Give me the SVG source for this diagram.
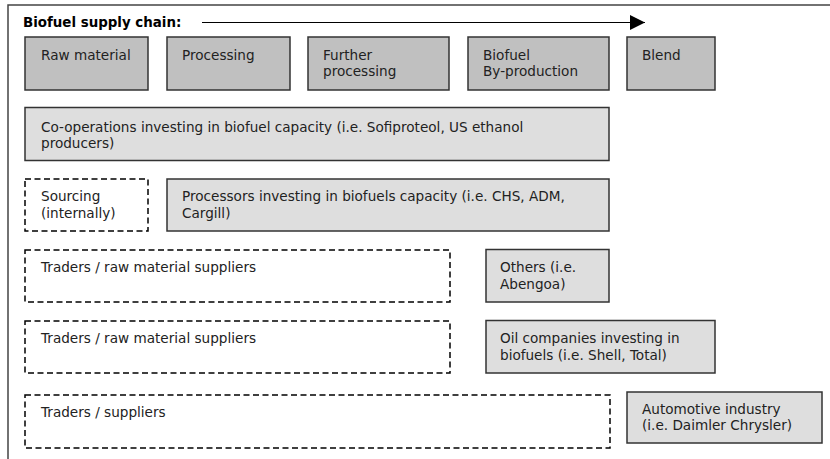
<svg xmlns="http://www.w3.org/2000/svg" width="830" height="459" viewBox="0 0 830 459">
<style>
  text { font-family: "DejaVu Sans", Verdana, sans-serif; font-size: 13.6px; fill: #222; }
  .title { font-weight: bold; fill: #000; font-size: 13.4px; }
  .dark { fill: #c0c0c0; stroke: #333; stroke-width: 1.5; }
  .light { fill: #dedede; stroke: #333; stroke-width: 1.5; }
  .dash { fill: #fff; stroke: #000; stroke-width: 1.5; stroke-dasharray: 6 3.5; }
  .frame { fill: none; stroke: #444; stroke-width: 1.5; }
</style>
<defs>
  <marker id="arrow" markerUnits="userSpaceOnUse" markerWidth="16" markerHeight="16" refX="15" refY="7.5" orient="auto">
    <path d="M0,0 L15,7.5 L0,15 Z" fill="#000"/>
  </marker>
</defs>
<rect width="830" height="459" fill="#fff"/>
<path class="frame" d="M8,470 L8,5 L840,5"/>
<g id="header">
  <text class="title" x="23" y="27">Biofuel supply chain:</text>
</g>
<g id="connectors">
  <line x1="202" y1="22.5" x2="645" y2="22.5" stroke="#000" stroke-width="1.2" marker-end="url(#arrow)"/>
</g>
<g id="raw-material">
  <rect class="dark" x="25" y="37" width="123" height="53"/>
  <text x="41" y="59.5">Raw material</text>
</g>
<g id="processing">
  <rect class="dark" x="167" y="37" width="123" height="53"/>
  <text x="182" y="59.5">Processing</text>
</g>
<g id="further-processing">
  <rect class="dark" x="308" y="37" width="141" height="53"/>
  <text x="323" y="59.5">Further</text>
  <text x="323" y="76">processing</text>
</g>
<g id="biofuel-byproduction">
  <rect class="dark" x="468" y="37" width="141" height="53"/>
  <text x="483" y="59.5">Biofuel</text>
  <text x="483" y="76">By-production</text>
</g>
<g id="blend">
  <rect class="dark" x="627" y="37" width="88" height="53"/>
  <text x="642" y="59.5">Blend</text>
</g>
<g id="co-operations">
  <rect class="light" x="25" y="107.5" width="584" height="53"/>
  <text x="41" y="131.5">Co-operations investing in biofuel capacity (i.e. Sofiproteol, US ethanol</text>
  <text x="41" y="148">producers)</text>
</g>
<g id="sourcing">
  <rect class="dash" x="25" y="179" width="123" height="52"/>
  <text x="41" y="201">Sourcing</text>
  <text x="41" y="217.5">(internally)</text>
</g>
<g id="processors">
  <rect class="light" x="167" y="179" width="442" height="52"/>
  <text x="182" y="201">Processors investing in biofuels capacity (i.e. CHS, ADM,</text>
  <text x="182" y="217.5">Cargill)</text>
</g>
<g id="traders-1">
  <rect class="dash" x="25" y="250" width="425" height="52"/>
  <text x="41" y="272">Traders / raw material suppliers</text>
</g>
<g id="others">
  <rect class="light" x="486" y="249.5" width="123" height="52.5"/>
  <text x="500" y="272">Others (i.e.</text>
  <text x="500" y="288.5">Abengoa)</text>
</g>
<g id="traders-2">
  <rect class="dash" x="25" y="321" width="425" height="52"/>
  <text x="41" y="343">Traders / raw material suppliers</text>
</g>
<g id="oil-companies">
  <rect class="light" x="486" y="320.5" width="229" height="52.5"/>
  <text x="500" y="343">Oil companies investing in</text>
  <text x="500" y="359.5">biofuels (i.e. Shell, Total)</text>
</g>
<g id="traders-suppliers">
  <rect class="dash" x="25" y="395" width="585" height="53"/>
  <text x="41" y="417">Traders / suppliers</text>
</g>
<g id="automotive">
  <rect class="light" x="627" y="392" width="195" height="51"/>
  <text x="642" y="413.5">Automotive industry</text>
  <text x="642" y="430">(i.e. Daimler Chrysler)</text>
</g>
</svg>
